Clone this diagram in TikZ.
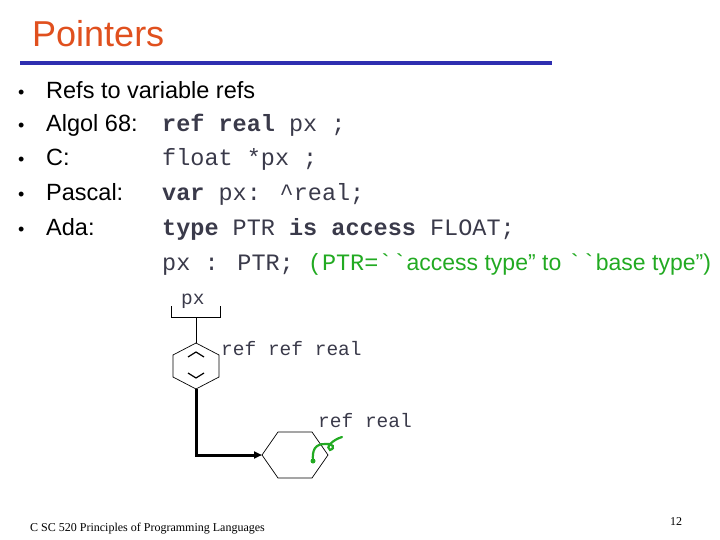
\documentclass[tikz,border=0pt]{standalone}
\usepackage{fontspec}
\setmainfont{Liberation Sans}
\newfontfamily\cmono{Liberation Mono}
\newfontfamily\tms{Liberation Serif}
\usetikzlibrary{arrows.meta}
\definecolor{titlec}{HTML}{E0501E}
\definecolor{codec}{HTML}{3A3A4A}
\definecolor{greenc}{HTML}{22AA22}
\definecolor{linec}{HTML}{2E2EB0}
\begin{document}
\begin{tikzpicture}[x=1pt,y=-1pt,
  txt/.style={anchor=base west,inner sep=0pt,font=\fontsize{23.5}{25}\selectfont},
  code/.style={anchor=base west,inner sep=0pt,text=codec,font=\cmono\fontsize{23.5}{24}\selectfont},
  lab/.style={anchor=base west,inner sep=0pt,text=codec,font=\cmono\fontsize{19.5}{20}\selectfont},
  shp/.style={draw=black,line width=0.7pt}]
\useasboundingbox (0,0) rectangle (720,540);
\node[anchor=base west,inner sep=0pt,text=titlec,font=\fontsize{36}{38}\selectfont] (title) at (32,47) {Pointers};
\draw[linec,line width=3.5pt] (20,63) -- (552,63);
\foreach \y/\t [count=\i] in {99/Refs to variable refs,132/Algol 68:,166/C:,201/Pascal:,236/Ada:}{
  \node[txt] (b\i) at (18,\y) {\fontsize{18}{20}\selectfont •};
  \node[txt] (t\i) at (46,\y) {\t};
}
\node[code] (c1) at (162,132) {\textbf{ref real} px ;};
\node[code] (c2) at (162,166) {float *px ;};
\node[code] (c3) at (162,201) {\textbf{var} px: \^{}real;};
\node[code] (c4) at (162,236) {\textbf{type} PTR \textbf{is access} FLOAT;};
\node[code] (c5) at (162,270) {px : PTR; {\color{greenc}(PTR=``{\rmfamily\fontsize{23}{24}\selectfont access type” to }``{\rmfamily\fontsize{23}{24}\selectfont base type”)}}};
% px box
\node[lab] (pxl) at (181,304) {px};
\draw[shp] (171,306) -- (171,317) -- (220,317) -- (220,306);
\coordinate (p1) at (196,317);
% vertical hexagon
\draw[shp] (196,343) -- (219,355) -- (219,377) -- (196,389) -- (173,377) -- (173,355) -- cycle;
\coordinate (h1t) at (196,343);
\coordinate (h1b) at (196,389);
\draw[line width=1.2pt] (188,357) -- (196,352) -- (204,357);
\draw[line width=1.2pt] (188,373) -- (196,378) -- (204,373);
\draw[shp] (p1) -- (h1t);
\node[lab] (l1) at (221,355) {ref ref real};
% horizontal hexagon
\draw[shp] (262,455) -- (278,432) -- (312,432) -- (328,455) -- (312,478) -- (278,478) -- cycle;
\coordinate (h2) at (262,455);
\draw[line width=3pt,-{Triangle[length=8pt,width=7pt]}] (h1b) -- (196,455) -- (h2);
\node[lab] (l2) at (318,427) {ref real};
% green squiggle
\draw[greenc,line width=2.2pt,line cap=round] (313,461) .. controls (312,450) and (315,444) .. (325,444) .. controls (333,443) and (336,448) .. (330,450) .. controls (325,448) and (332,440) .. (342,437);
\fill[greenc] (313,461) circle (2.5pt);
\node[anchor=base west,inner sep=0pt,font=\tms\fontsize{12}{13}\selectfont] (foot) at (30,531) {C SC 520 Principles of Programming Languages};
\node[anchor=base west,inner sep=0pt,font=\tms\fontsize{12}{13}\selectfont] (pg) at (670,525) {12};
\end{tikzpicture}
\end{document}
